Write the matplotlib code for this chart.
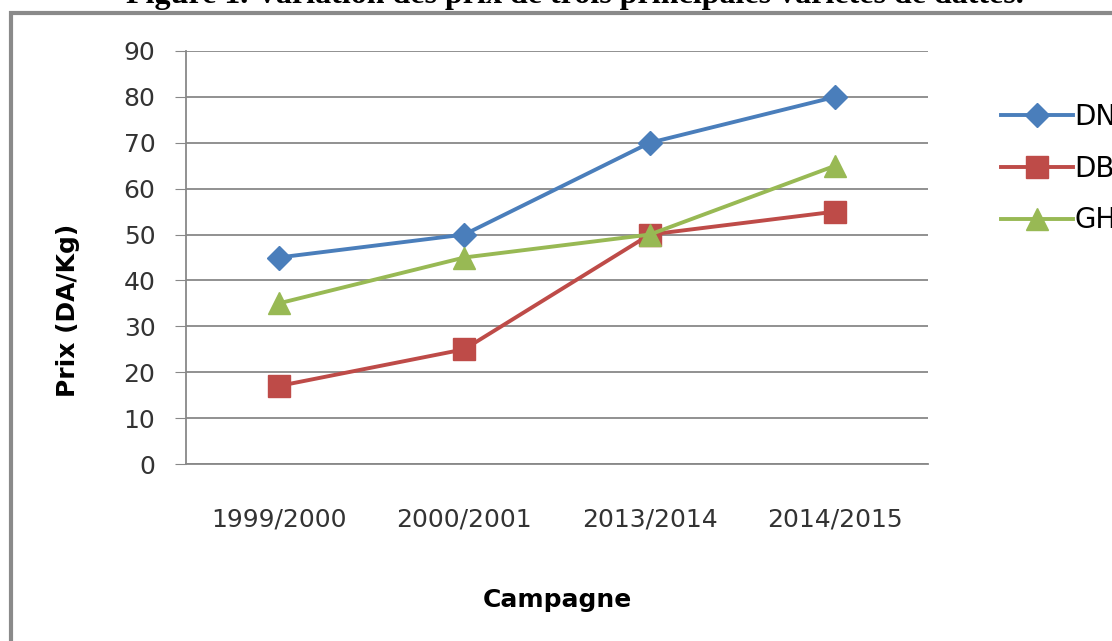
import matplotlib
matplotlib.use('Agg')
import matplotlib.pyplot as plt
from matplotlib.patches import Rectangle

# Campaigns and prices (DA/Kg) for the three date varieties
campagnes = ['1999/2000', '2000/2001', '2013/2014', '2014/2015']
dn = [45, 50, 70, 80]
db = [17, 25, 50, 55]
gh = [35, 45, 50, 65]

plt.rcParams['font.family'] = ['DejaVu Sans']

fig = plt.figure(figsize=(11.12, 6.41), dpi=100)
ax = fig.add_axes([186 / 1112, 1 - 464 / 641, (928 - 186) / 1112, (464 - 51) / 641])

x = range(len(campagnes))
ax.plot(x, dn, color='#4A7EBB', lw=2.8, marker='D', ms=12, label='DN')
ax.plot(x, db, color='#BE4B48', lw=2.8, marker='s', ms=16, label='DB')
ax.plot(x, gh, color='#98B954', lw=2.8, marker='^', ms=16, label='GH')

ax.set_xlim(-0.5, len(campagnes) - 0.5)
ax.set_ylim(0, 90)
ax.set_yticks(range(0, 91, 10))
ax.set_xticks(list(x))
ax.set_xticklabels(campagnes)
ax.tick_params(axis='y', length=8, color='#888888', labelsize=18, pad=14, labelcolor='#333333')
ax.tick_params(axis='x', length=0, labelsize=18, pad=31, labelcolor='#333333')
ax.grid(axis='y', color='#888888', lw=1.3)
ax.set_axisbelow(True)
for s in ['top', 'right']:
    ax.spines[s].set_visible(False)
ax.spines['left'].set_color('#888888')
ax.spines['left'].set_linewidth(1.3)
ax.spines['bottom'].set_color('#888888')
ax.spines['bottom'].set_linewidth(1.3)

ax.set_xlabel('Campagne', fontsize=18, fontweight='bold', labelpad=41)
ax.set_ylabel('Prix (DA/Kg)', fontsize=18, fontweight='bold', ha='center', va='center')
ax.yaxis.set_label_coords((68 - 186) / 742, (464 - 310) / 413)

leg = fig.legend(loc='upper left', bbox_to_anchor=(976 / 1112, 1 - 78 / 641),
                 frameon=False, fontsize=20, handlelength=2.6, handletextpad=0.05,
                 labelspacing=0.85)

# Frame around the chart (runs off the right and bottom edges)
fig.patches.append(Rectangle((11 / 1112, -0.05), 1.2, 1 - 13 / 641 + 0.05,
                             transform=fig.transFigure, fill=False,
                             edgecolor='#8a8a8a', lw=3))

fig.text(0.517, 1 - 3 / 641, 'Figure 1. Variation des prix de trois principales variétés de dattes.',
         ha='center', va='baseline', fontsize=23, fontweight='bold', family='Liberation Serif')

fig.savefig('out.png', dpi=100)
